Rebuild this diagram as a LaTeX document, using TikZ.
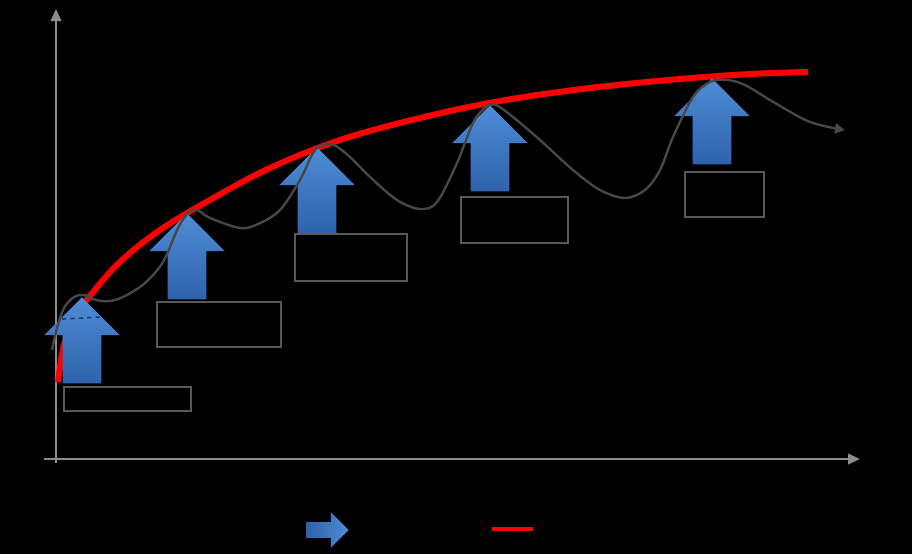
\documentclass[tikz,border=0pt]{standalone}
\usepackage{tikz}
\usetikzlibrary{shapes.arrows, arrows.meta, fit}
\usepackage{xcolor}
\definecolor{AxisGray}{HTML}{8C8C8C}
\definecolor{WaveGray}{HTML}{474747}
\definecolor{BoxGray}{HTML}{595959}
\definecolor{TrendRed}{HTML}{FF0000}
\definecolor{StepBlueTop}{HTML}{4F8CD6}
\definecolor{StepBlueBottom}{HTML}{2E62AC}
\definecolor{DashNavy}{HTML}{1F3A66}
\tikzset{
    % Node styles
    stepup/.style={
        single arrow,
        shape border rotate=90,
        single arrow head extend=0.4625cm,
        minimum height=2.15cm,
        inner sep=0.475cm,
        anchor=tip,
        top color=StepBlueTop,
        bottom color=StepBlueBottom,
        draw=none
    },
    infobox/.style={
        rectangle,
        draw=BoxGray,
        line width=0.05cm,
        inner sep=0pt,
        fill=none
    },
    % Line styles
    axisline/.style={
        -{Triangle[length=0.3cm,width=0.26cm]},
        AxisGray,
        line width=0.07cm
    },
    trendline/.style={
        TrendRed,
        line width=0.15cm
    },
    waveline/.style={
        -{Triangle[length=0.25cm,width=0.25cm]},
        WaveGray,
        line width=0.06cm
    }
}

\begin{document}
\begin{tikzpicture}[x=0.025cm, y=-0.025cm]
    % Background
    \fill[black] (0,0) rectangle (912,554);
    \useasboundingbox (0,0) rectangle (912,554);

    % Axes
    \coordinate (ybot) at (56,463);
    \coordinate (ytop) at (56,9);
    \coordinate (xleft) at (44,459);
    \coordinate (xright) at (860,459);
    \draw[axisline] (ybot) -- (ytop);
    \draw[axisline] (xleft) -- (xright);

    % Trend curve
    \draw[trendline] plot[smooth, tension=0.6] coordinates {
        (58,382) (64,345) (75,318) (90,296) (120,262) (160,230) (210,200)
        (270,168) (340,140) (420,118) (500,101) (590,88) (680,79) (750,74) (808,72)};

    % Step arrows
    \node[stepup] (step1) at (82,297) {};
    \node[stepup] (step2) at (187,213) {};
    \node[stepup] (step3) at (317,147) {};
    \node[stepup] (step4) at (490,105) {};
    \node[stepup] (step5) at (712,78) {};

    % Wave curve
    \draw[waveline] plot[smooth, tension=0.55] coordinates {
        (52,350) (57,328) (64,308) (74,297) (84,295) (96,300) (110,301)
        (125,296) (145,283) (163,262) (178,228) (188,213) (197,210) (210,218)
        (240,228) (258,224) (280,210) (300,180) (313,153) (322,145) (334,145)
        (350,157) (370,177) (397,200) (420,209) (437,202) (457,163) (473,123)
        (486,107) (496,105) (513,117) (540,140) (573,170) (600,190) (625,198)
        (645,190) (660,170) (673,137) (693,97) (710,82) (727,80) (745,85)
        (775,103) (810,122) (845,130)};
    \coordinate (dashA) at (62,319);
    \coordinate (dashB) at (102,317);
    \draw[DashNavy, dashed, line width=0.04cm] (dashA) -- (dashB);

    % Boxes under the arrows
    \node[infobox, fit={(64,387) (191,411)}] (box1) {};
    \node[infobox, fit={(157,302) (281,347)}] (box2) {};
    \node[infobox, fit={(295,234) (407,281)}] (box3) {};
    \node[infobox, fit={(461,197) (568,243)}] (box4) {};
    \node[infobox, fit={(685,172) (764,217)}] (box5) {};

    % Legend
    \node[stepup, shape border rotate=0, minimum height=1.05cm, inner sep=0.1875cm,
        single arrow head extend=0.25cm, left color=StepBlueBottom, right color=StepBlueTop] (legstep) at (349,530) {};
    \coordinate (redA) at (492,529);
    \coordinate (redB) at (533,529);
    \draw[TrendRed, line width=0.1cm] (redA) -- (redB);
\end{tikzpicture}
\end{document}
